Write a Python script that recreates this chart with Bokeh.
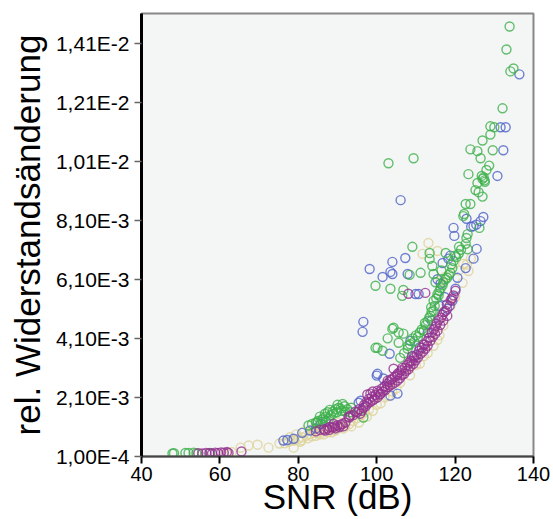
from bokeh.plotting import figure
from bokeh.models import FixedTicker, CustomJSTickFormatter, ColumnDataSource
from bokeh.embed import file_html
from bokeh.resources import INLINE

# ---- data (x: SNR in dB, y: rel. resistance change in units of 1E-3) ----
yellow_pts = [
    (61.7, 0.20), (63.0, 0.25), (65.3, 0.40), (67.3, 0.47), (69.6, 0.50), (72.4, 0.40), (75.2, 0.54),
    (78.8, 0.40), (78.7, 0.64), (76.5, 0.55), (77.5, 0.60), (77.8, 0.75), (79.0, 0.65), (79.5, 0.85),
    (80.0, 0.70), (80.5, 0.60), (81.0, 0.75), (81.5, 0.95), (82.0, 0.80), (82.5, 0.72), (83.0, 0.85),
    (84.0, 0.90), (84.5, 0.80), (85.0, 0.90), (86.0, 0.95), (86.5, 0.85), (87.0, 1.00), (88.0, 1.00),
    (88.5, 0.92), (89.0, 1.05), (90.0, 1.05), (91.0, 1.10), (92.0, 1.15), (93.0, 1.20), (94.0, 1.30),
    (95.0, 1.40), (96.0, 1.50), (97.0, 1.60), (98.0, 1.70), (100.0, 1.85), (102.0, 2.10), (104.0, 2.30),
    (106.0, 2.60), (107.9, 3.10), (110.0, 3.20), (112.0, 3.50), (114.5, 3.85), (116.0, 4.20), (117.0, 4.53),
    (111.7, 6.96), (113.2, 7.33), (115.5, 7.06), (116.3, 6.05), (117.6, 6.20), (118.8, 5.20), (120.0, 5.50),
    (121.0, 6.40), (121.9, 5.98), (122.1, 6.62), (123.0, 6.60), (123.4, 6.38), (124.0, 6.80),
    (80.8, 0.65), (83.5, 0.78), (85.5, 0.85), (87.5, 0.92), (89.5, 0.98), (91.5, 1.05), (93.5, 1.12),
    (95.5, 1.25), (97.5, 1.45), (99.0, 1.65), (101.0, 1.90), (103.0, 2.15), (105.0, 2.40), (108.5, 2.85),
    (111.0, 3.25), (113.0, 3.60), (115.5, 4.05), (85.5, 1.10), (90.5, 1.25), (83.8, 1.02),
]
blue_pts = [
    (76.2, 0.64), (77.2, 0.66), (78.8, 0.70), (81.0, 0.90), (83.0, 0.98), (84.5, 1.05), (85.7, 1.20),
    (87.0, 1.30), (95.4, 1.92), (95.9, 1.99), (100.2, 2.90), (100.0, 2.84), (101.7, 2.74), (103.5, 2.16),
    (105.3, 2.23), (103.3, 3.58), (108.6, 4.02), (109.5, 3.50), (111.0, 3.80), (113.0, 4.30), (114.0, 4.70),
    (116.0, 5.20), (117.3, 5.50), (118.0, 5.10), (119.3, 5.37), (120.1, 5.78), (120.6, 6.15), (116.3, 5.95),
    (115.5, 6.10), (116.8, 6.65), (118.3, 6.80), (118.8, 6.90), (122.7, 6.48), (124.7, 6.80), (125.5, 7.13),
    (119.8, 7.57), (119.6, 7.84), (124.1, 7.88), (124.7, 7.90), (125.4, 7.95), (126.5, 8.07), (127.2, 8.21),
    (122.9, 8.15), (130.8, 9.60), (132.3, 10.47), (131.6, 11.25), (132.9, 11.25), (136.4, 13.04),
    (96.6, 4.66), (96.4, 4.32), (98.2, 6.45), (101.5, 6.18), (103.5, 6.35), (104.0, 6.28), (104.0, 6.69),
    (107.3, 6.82), (107.9, 6.28), (109.9, 5.60), (110.7, 5.60), (106.1, 8.78),
]
green_pts = [
    (47.9, 0.20), (48.3, 0.21), (51.2, 0.22), (52.0, 0.22), (53.3, 0.23), (54.0, 0.21), (57.5, 0.22),
    (82.6, 1.15), (83.5, 1.20), (84.5, 1.25), (84.9, 1.25), (85.0, 1.30), (86.0, 1.35), (86.4, 1.40),
    (87.0, 1.45), (87.5, 1.60), (88.0, 1.68), (88.3, 1.50), (89.0, 1.55), (89.5, 1.70), (90.0, 1.85),
    (90.3, 1.75), (91.0, 1.65), (91.8, 1.80), (92.5, 1.70), (93.2, 1.60), (93.5, 1.75), (96.6, 1.42),
    (85.5, 1.45), (86.8, 1.55), (88.8, 1.62), (89.8, 1.60), (90.8, 1.72), (91.3, 1.88), (92.0, 1.62),
    (87.8, 1.38), (86.2, 1.28),
    (99.7, 3.78), (100.2, 3.78), (101.5, 3.68), (102.8, 4.10), (104.0, 4.42), (104.3, 4.46), (105.6, 3.95),
    (105.6, 4.30), (106.8, 4.26), (106.0, 3.44), (107.0, 3.60), (107.9, 3.75), (108.5, 3.90), (109.1, 4.10),
    (110.0, 4.20), (111.0, 4.30), (112.0, 4.36), (112.5, 4.55), (113.0, 4.69), (113.4, 4.80), (113.7, 4.86),
    (114.0, 5.00), (114.5, 5.03), (114.8, 5.20), (114.5, 5.37), (115.2, 5.45), (115.5, 5.60), (116.0, 5.70),
    (116.3, 5.80), (117.0, 6.00), (117.5, 6.10), (118.0, 6.15), (118.8, 6.32), (119.3, 6.48), (119.6, 6.72),
    (120.3, 6.85), (120.9, 6.96), (121.5, 7.10), (122.7, 7.30), (122.9, 7.50), (123.2, 7.63), (123.2, 7.12),
    (108.0, 3.85), (109.6, 4.00), (110.5, 4.15), (111.5, 4.40), (112.3, 4.62), (113.9, 5.15), (115.8, 5.55),
    (116.8, 5.90), (118.4, 6.25), (119.0, 6.60), (120.0, 6.90), (121.0, 7.20), (116.5, 6.40), (115.0, 6.00),
    (126.2, 7.84), (122.1, 8.24), (122.3, 8.31), (122.7, 8.65), (123.9, 8.65), (126.0, 9.05), (127.0, 8.90),
    (125.2, 9.12), (125.7, 9.36), (127.0, 9.50), (127.3, 9.55), (127.5, 9.45), (127.6, 9.40), (126.8, 9.60),
    (123.4, 9.66), (128.0, 9.80), (128.7, 9.95), (126.5, 10.20), (125.7, 10.44), (123.9, 10.50), (129.6, 10.47),
    (127.0, 10.80), (129.0, 11.00), (129.0, 11.28), (130.0, 11.25), (132.1, 11.89), (134.1, 13.14),
    (134.9, 13.24), (133.1, 13.88), (133.9, 14.66), (103.0, 10.03), (109.4, 10.20),
    (99.7, 5.88), (103.5, 5.78), (106.5, 5.54), (106.8, 5.74), (108.4, 6.25), (111.2, 6.32), (114.2, 6.55),
    (114.5, 6.28), (113.5, 6.79), (113.5, 6.99), (117.6, 6.99), (109.1, 7.20),
]
purple_pts = [
    (54.5, 0.21), (55.5, 0.20), (56.5, 0.22), (57.3, 0.21), (58.0, 0.20), (58.8, 0.23), (59.5, 0.22),
    (60.3, 0.24), (61.0, 0.23), (61.8, 0.25), (62.2, 0.22), (65.5, 0.27),
    (84.5, 0.95), (85.5, 1.00), (86.5, 1.02), (87.4, 1.05), (88.0, 1.10), (88.7, 1.08), (89.0, 1.20),
    (89.3, 1.12), (90.0, 1.15), (90.8, 1.18), (91.5, 1.12), (92.8, 1.45), (93.0, 1.42), (93.3, 1.49),
    (94.0, 1.50), (95.0, 1.60), (95.8, 1.55), (96.6, 1.75), (97.2, 1.80), (97.6, 2.20), (97.7, 1.89),
    (98.4, 1.95), (98.4, 2.23), (99.0, 2.00), (99.0, 2.30), (99.5, 2.05), (100.2, 2.10), (100.2, 2.33),
    (100.8, 2.20), (101.0, 2.23), (101.6, 2.30), (102.2, 2.35), (102.8, 2.45), (102.8, 2.67), (103.4, 2.50),
    (103.5, 2.70), (104.0, 2.55), (104.3, 3.07), (104.6, 2.60), (105.3, 2.67), (105.3, 2.90), (105.9, 2.75),
    (106.4, 2.85), (106.5, 3.10), (107.0, 2.90), (107.5, 3.00), (108.1, 3.05), (108.6, 3.15), (108.6, 3.34),
    (109.0, 3.50), (109.4, 3.24), (109.9, 3.35), (110.5, 3.45), (111.2, 3.58), (111.8, 3.65), (112.0, 3.90),
    (112.4, 3.75), (113.0, 3.85), (113.7, 4.02), (114.3, 4.15), (114.9, 4.25), (115.0, 4.50), (115.5, 4.36),
    (116.2, 4.55), (116.8, 4.90), (117.0, 4.70), (117.6, 5.03), (118.0, 4.86), (118.6, 5.20), (119.2, 5.45),
    (119.6, 5.55), (120.1, 5.71), (108.1, 5.61), (112.4, 5.64),
    (94.5, 1.62), (95.5, 1.70), (96.2, 1.65), (96.8, 1.85), (97.4, 1.95), (98.0, 2.05), (98.8, 2.12),
    (99.6, 2.18), (100.5, 2.28), (101.3, 2.40), (102.0, 2.48), (102.6, 2.56), (103.2, 2.62), (103.9, 2.72),
    (104.6, 2.80), (105.2, 2.85), (105.8, 2.95), (106.3, 3.02), (107.2, 3.10), (107.8, 3.20), (108.3, 3.28),
    (109.0, 3.32), (109.6, 3.45), (110.2, 3.55), (110.8, 3.68), (111.5, 3.78), (112.2, 3.88), (112.8, 4.00),
    (113.4, 4.12), (114.0, 4.30), (114.6, 4.40), (115.3, 4.60), (115.8, 4.72), (116.5, 4.80), (117.2, 5.00),
    (117.9, 5.25), (118.9, 5.40), (89.5, 1.05), (90.5, 1.10), (91.2, 1.20), (92.0, 1.25), (87.9, 1.00),
    (86.9, 0.98),
]

x_ticks = [40, 60, 80, 100, 120, 140]
y_ticks = [1.0e-4, 2.1e-3, 4.1e-3, 6.1e-3, 8.1e-3, 1.01e-2, 1.21e-2, 1.41e-2]

series = [
    (yellow_pts, "#ddd39a"),
    (blue_pts, "#4f63c8"),
    (green_pts, "#3cb04a"),
    (purple_pts, "#93318f"),
]

FONT = "Liberation Sans"

p = figure(width=553, height=519, x_range=(40, 140), y_range=(1.0e-4, 0.0151),
           output_backend="svg", toolbar_location=None,
           background_fill_color="#f4f5f5", border_fill_color="white",
           min_border_left=141, min_border_top=13, min_border_right=20, min_border_bottom=63)

p.xgrid.visible = False
p.ygrid.visible = False
p.outline_line_color = "#888888"
p.outline_line_width = 2

for pts, col in series:
    src = ColumnDataSource(dict(x=[a for a, b in pts], y=[b * 1e-3 for a, b in pts]))
    p.scatter("x", "y", source=src, size=9, marker="circle", fill_color=None,
              line_color=col, line_width=1.4, line_alpha=0.8)

xa = p.xaxis[0]
xa.ticker = FixedTicker(ticks=x_ticks)
xa.axis_label = "SNR (dB)"
xa.axis_label_text_font = FONT
xa.axis_label_text_font_size = "35px"
xa.axis_label_text_font_style = "normal"
xa.axis_label_text_color = "black"
xa.axis_label_standoff = -7
xa.major_label_text_font = FONT
xa.major_label_text_font_size = "20px"
xa.major_label_text_color = "black"
xa.major_label_standoff = 3
xa.axis_line_color = "#444444"
xa.axis_line_width = 2
xa.major_tick_line_color = "black"
xa.major_tick_line_width = 2
xa.major_tick_out = 7
xa.major_tick_in = 0
xa.minor_tick_line_color = None

ya = p.yaxis[0]
ya.ticker = FixedTicker(ticks=y_ticks)
ya.formatter = CustomJSTickFormatter(
    code="return tick.toExponential(2).replace('.', ',').replace('e', 'E').replace('+', '');")
ya.axis_label = "rel. Widerstandsänderung"
ya.axis_label_text_font = FONT
ya.axis_label_text_font_size = "35px"
ya.axis_label_text_font_style = "normal"
ya.axis_label_text_color = "black"
ya.axis_label_standoff = 6
ya.major_label_text_font = FONT
ya.major_label_text_font_size = "21px"
ya.major_label_text_color = "black"
ya.major_label_standoff = 5
ya.axis_line_color = "black"
ya.axis_line_width = 3
ya.major_tick_line_color = "#666666"
ya.major_tick_line_width = 1.5
ya.major_tick_out = 7
ya.major_tick_in = 0
ya.minor_tick_line_color = None

open("out.html", "w").write(file_html(p, INLINE))
